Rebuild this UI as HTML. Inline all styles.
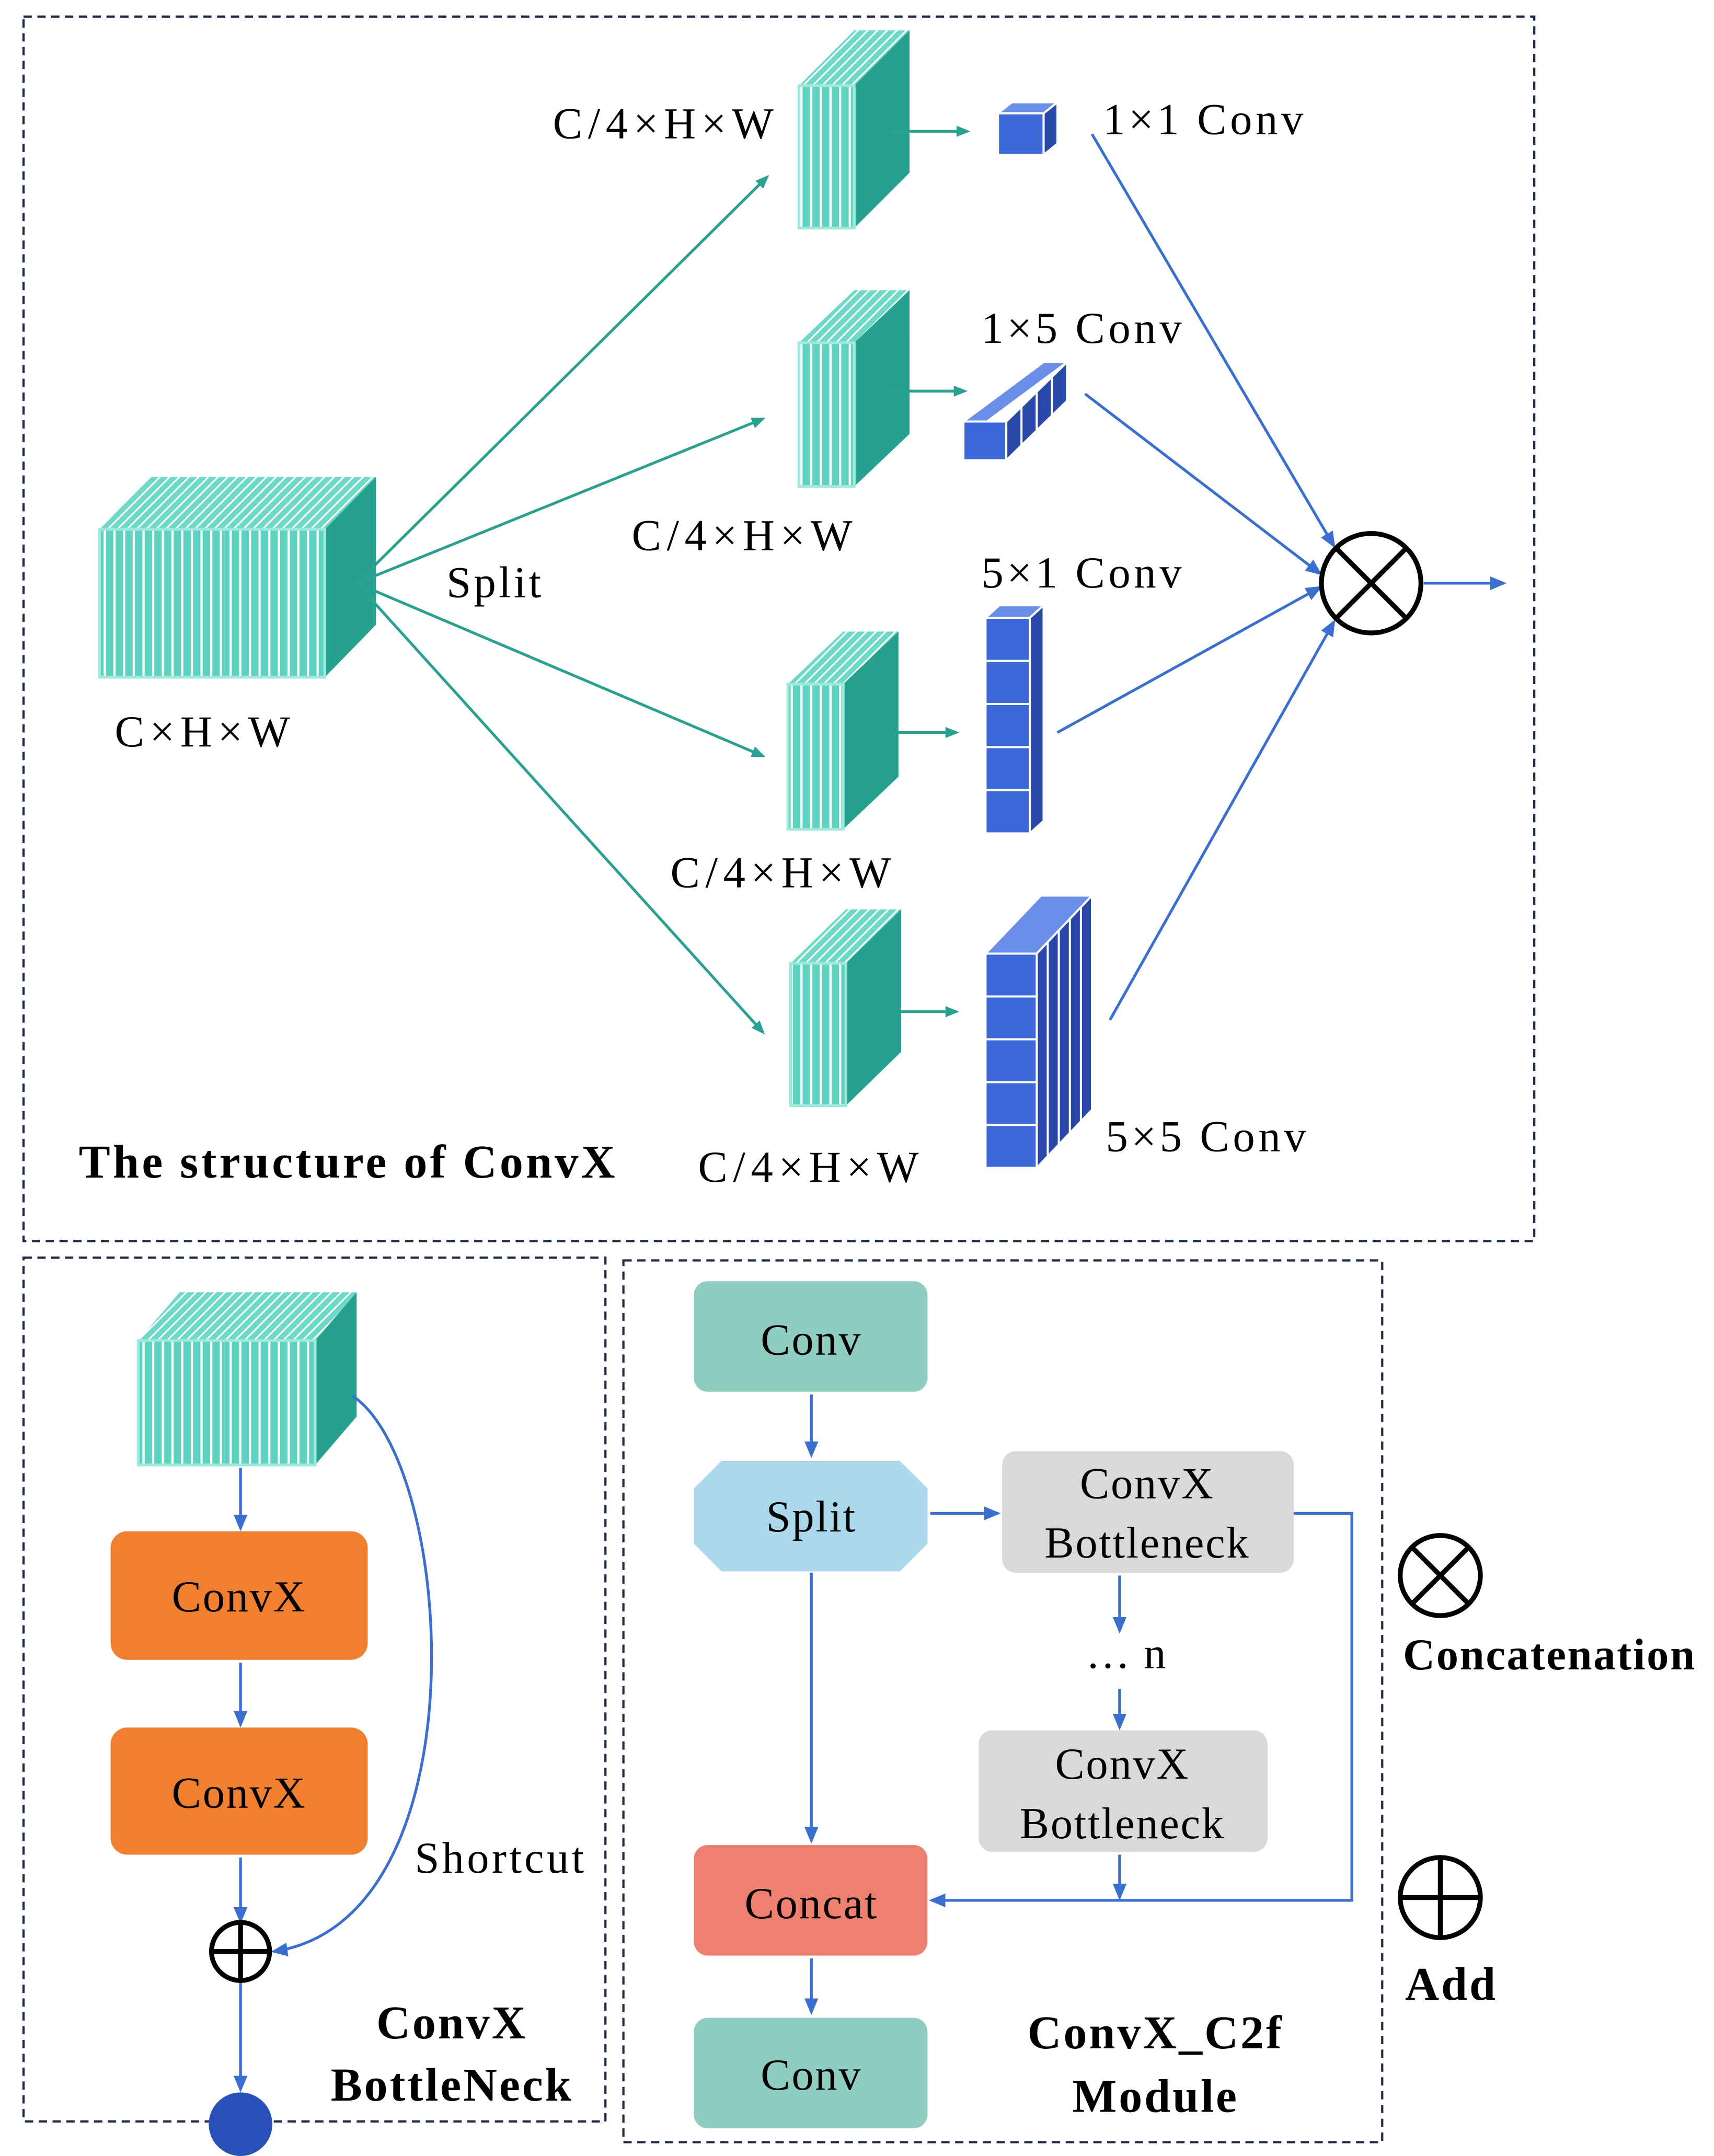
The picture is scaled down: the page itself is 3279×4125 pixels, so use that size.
<!DOCTYPE html>
<html><head><meta charset="utf-8"><style>html,body{margin:0;padding:0;background:#fff}svg{display:block}</style></head><body>
<svg width="3279" height="4125" viewBox="0 0 1240 1560" xmlns="http://www.w3.org/2000/svg" font-family="'Liberation Serif', serif">
<defs>
<pattern id="st" width="7" height="10" patternUnits="userSpaceOnUse"><rect width="7" height="10" fill="#5fd3c2"/><rect x="5" width="1.6" height="10" fill="#fff"/></pattern>
<pattern id="st2" width="7" height="10" patternUnits="userSpaceOnUse" patternTransform="skewX(-45)"><rect width="7" height="10" fill="#6fd9c8"/><rect x="5" width="1.6" height="10" fill="#fff"/></pattern>
<marker id="at" markerWidth="10" markerHeight="10" refX="8" refY="5" orient="auto" markerUnits="userSpaceOnUse"><path d="M0,1 L10,5 L0,9 Z" fill="#2aa090"/></marker>
<marker id="ab" markerWidth="12" markerHeight="12" refX="10" refY="6" orient="auto" markerUnits="userSpaceOnUse"><path d="M0,1 L12,6 L0,11 Z" fill="#3a6fd0"/></marker>
</defs>
<g fill="none" stroke="#1f2a44" stroke-width="1.6" stroke-dasharray="6,4">
<rect x="17" y="12" width="1093" height="886"/>
<rect x="17" y="910" width="421" height="625"/>
<rect x="451" y="912" width="549" height="638"/>
</g>
<g>
<polygon points="72,383 109,345 272,345 235,383" fill="url(#st2)"/>
<polygon points="235,383 272,345 272,452 235,490" fill="#26a08f"/>
<rect x="72" y="383" width="163" height="107" fill="url(#st)" stroke="#9ee8dc" stroke-width="2"/>
<polygon points="578,62 618,22 658,22 618,62" fill="url(#st2)"/><polygon points="618,62 658,22 658,125 618,165" fill="#26a08f"/><rect x="578" y="62" width="40" height="103" fill="url(#st)" stroke="#9ee8dc" stroke-width="2"/>
<polygon points="578,248 618,210 658,210 618,248" fill="url(#st2)"/><polygon points="618,248 658,210 658,314 618,352" fill="#26a08f"/><rect x="578" y="248" width="40" height="104" fill="url(#st)" stroke="#9ee8dc" stroke-width="2"/>
<polygon points="570,495 610,457 650,457 610,495" fill="url(#st2)"/><polygon points="610,495 650,457 650,562 610,600" fill="#26a08f"/><rect x="570" y="495" width="40" height="105" fill="url(#st)" stroke="#9ee8dc" stroke-width="2"/>
<polygon points="572,697 612,658 652,658 612,697" fill="url(#st2)"/><polygon points="612,697 652,658 652,761 612,800" fill="#26a08f"/><rect x="572" y="697" width="40" height="103" fill="url(#st)" stroke="#9ee8dc" stroke-width="2"/>
<polygon points="100,970 130,935 258,935 228,970" fill="url(#st2)"/><polygon points="228,970 258,935 258,1025 228,1060" fill="#26a08f"/><rect x="100" y="970" width="128" height="90" fill="url(#st)" stroke="#9ee8dc" stroke-width="2"/>
</g>
<g stroke="#fff" stroke-width="1.5">
<polygon points="722,82 732,74 765,74 755,82" fill="#6b8fe8"/><polygon points="755,82 765,74 765,104 755,112" fill="#2a48a8"/><rect x="722" y="82" width="33" height="30" fill="#3d68d8"/>
<polygon points="697,305 755,262 772,262 714,305" fill="#6b8fe8"/><polygon points="728,305 772,262 772,290 728,333" fill="#2a48a8"/><rect x="697" y="305" width="31" height="28" fill="#3d68d8"/>
<line x1="739" y1="294" x2="739" y2="322"/><line x1="750" y1="284" x2="750" y2="312"/><line x1="761" y1="273" x2="761" y2="301"/>
<polygon points="713,447 723,438 755,438 745,447" fill="#6b8fe8"/><polygon points="745,447 755,438 755,594 745,603" fill="#2a48a8"/>
<rect x="713" y="447" width="32" height="31.2" fill="#3d68d8"/><rect x="713" y="478.2" width="32" height="31.2" fill="#3d68d8"/><rect x="713" y="509.4" width="32" height="31.2" fill="#3d68d8"/><rect x="713" y="540.6" width="32" height="31.2" fill="#3d68d8"/><rect x="713" y="571.8" width="32" height="31.2" fill="#3d68d8"/>
<polygon points="713,690 753,648 790,648 750,690" fill="#6b8fe8"/><polygon points="750,690 790,648 790,803 750,845" fill="#2a48a8"/>
<rect x="713" y="690" width="37" height="31" fill="#3d68d8"/><rect x="713" y="721" width="37" height="31" fill="#3d68d8"/><rect x="713" y="752" width="37" height="31" fill="#3d68d8"/><rect x="713" y="783" width="37" height="31" fill="#3d68d8"/><rect x="713" y="814" width="37" height="31" fill="#3d68d8"/>
<line x1="758" y1="682" x2="758" y2="836"/><line x1="766" y1="673" x2="766" y2="828"/><line x1="774" y1="665" x2="774" y2="820"/><line x1="782" y1="656" x2="782" y2="811"/>
</g>
<g stroke="#2aa090" stroke-width="2" marker-end="url(#at)">
<line x1="258" y1="422" x2="555" y2="128"/><line x1="258" y1="422" x2="552" y2="303"/><line x1="258" y1="422" x2="552" y2="547"/><line x1="258" y1="422" x2="552" y2="747"/>
<line x1="643" y1="95" x2="700" y2="95"/><line x1="643" y1="283" x2="698" y2="283"/><line x1="650" y1="530" x2="692" y2="530"/><line x1="635" y1="732" x2="692" y2="732"/>
</g>
<g stroke="#3a6fd0" stroke-width="2" marker-end="url(#ab)" fill="none">
<line x1="790" y1="97" x2="965" y2="395"/><line x1="785" y1="285" x2="955" y2="415"/><line x1="765" y1="530" x2="955" y2="425"/><line x1="803" y1="738" x2="965" y2="450"/>
<line x1="1030" y1="422" x2="1088" y2="422"/>
<line x1="174" y1="1062" x2="174" y2="1106"/><line x1="174" y1="1203" x2="174" y2="1248"/><line x1="174" y1="1344" x2="174" y2="1390"/><line x1="174" y1="1434" x2="174" y2="1512"/>
<path d="M255,1010 C330,1060 350,1390 198,1412"/>
<line x1="587" y1="1009" x2="587" y2="1053"/><line x1="673" y1="1095" x2="722" y2="1095"/><line x1="810" y1="1140" x2="810" y2="1180"/><line x1="810" y1="1222" x2="810" y2="1250"/><line x1="810" y1="1342" x2="810" y2="1373"/><line x1="587" y1="1138" x2="587" y2="1332"/>
<path d="M936,1095 L978,1095 L978,1375 L674,1375"/><line x1="587" y1="1417" x2="587" y2="1456"/>
</g>
<g fill="none" stroke="#000" stroke-width="3.5">
<circle cx="992" cy="422" r="36"/><line x1="967" y1="397" x2="1017" y2="447"/><line x1="1017" y1="397" x2="967" y2="447"/>
<circle cx="174" cy="1412" r="21"/><line x1="153" y1="1412" x2="195" y2="1412"/><line x1="174" y1="1391" x2="174" y2="1433"/>
<circle cx="1042" cy="1140" r="29"/><line x1="1021" y1="1119" x2="1063" y2="1161"/><line x1="1063" y1="1119" x2="1021" y2="1161"/>
<circle cx="1042" cy="1373" r="29"/><line x1="1013" y1="1373" x2="1071" y2="1373"/><line x1="1042" y1="1344" x2="1042" y2="1402"/>
</g>
<circle cx="174" cy="1537" r="23" fill="#2850b8"/>
<rect x="80" y="1108" width="186" height="93" rx="12" fill="#f08030"/>
<rect x="80" y="1250" width="186" height="92" rx="12" fill="#f08030"/>
<rect x="502" y="927" width="169" height="80" rx="10" fill="#8ecdc0"/>
<polygon points="522,1057 651,1057 671,1077 671,1117 651,1137 522,1137 502,1117 502,1077" fill="#acd8ec"/>
<rect x="725" y="1050" width="211" height="88" rx="10" fill="#d9d9d9"/>
<rect x="708" y="1252" width="209" height="88" rx="10" fill="#d9d9d9"/>
<rect x="502" y="1335" width="169" height="80" rx="10" fill="#ee8070"/>
<rect x="502" y="1460" width="169" height="80" rx="10" fill="#8ecdc0"/>
<g font-size="32" fill="#000" letter-spacing="2">
<text x="400" y="100" letter-spacing="4">C/4×H×W</text><text x="798" y="97" letter-spacing="2.5">1×1 Conv</text><text x="710" y="248" letter-spacing="2.5">1×5 Conv</text><text x="457" y="398" letter-spacing="4">C/4×H×W</text><text x="710" y="425" letter-spacing="2.5">5×1 Conv</text><text x="323" y="432">Split</text><text x="83" y="540" letter-spacing="4">C×H×W</text><text x="485" y="642" letter-spacing="4">C/4×H×W</text><text x="505" y="855" letter-spacing="4">C/4×H×W</text><text x="800" y="833" letter-spacing="2.5">5×5 Conv</text>
<text x="300" y="1355">Shortcut</text>
<g text-anchor="middle" letter-spacing="1"><text x="173" y="1166">ConvX</text><text x="173" y="1308">ConvX</text><text x="587" y="980">Conv</text><text x="587" y="1108">Split</text><text x="830" y="1084">ConvX</text><text x="830" y="1127">Bottleneck</text><text x="812" y="1287">ConvX</text><text x="812" y="1330">Bottleneck</text><text x="587" y="1388">Concat</text><text x="587" y="1512">Conv</text><text x="815" y="1207">… n</text></g>
</g>
<g font-size="34" font-weight="bold" fill="#000" letter-spacing="1.5">
<text x="57" y="852" letter-spacing="2">The structure of ConvX</text>
<g text-anchor="middle"><text x="327" y="1475">ConvX</text><text x="327" y="1520">BottleNeck</text><text x="836" y="1482">ConvX_C2f</text><text x="836" y="1528">Module</text><text x="1050" y="1447">Add</text></g>
<text x="1015" y="1208" font-size="32" letter-spacing="1">Concatenation</text>
</g>
</svg>
</body></html>
